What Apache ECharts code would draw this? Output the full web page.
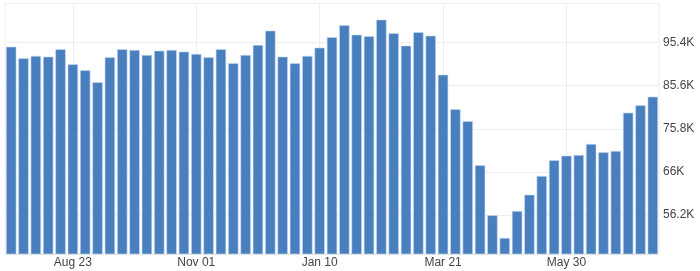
<!DOCTYPE html>
<html>
<head>
<meta charset="utf-8">
<script src="https://cdn.jsdelivr.net/npm/echarts@6/dist/echarts.min.js"></script>
<style>
html,body{margin:0;padding:0;background:#fff;}
#chart{width:700px;height:271px;}
</style>
</head>
<body>
<div id="chart"></div>
<script>
const categories = ["Jul 19","Jul 26","Aug 02","Aug 09","Aug 16","Aug 23","Aug 30","Sep 06","Sep 13","Sep 20","Sep 27","Oct 04","Oct 11","Oct 18","Oct 25","Nov 01","Nov 08","Nov 15","Nov 22","Nov 29","Dec 06","Dec 13","Dec 20","Dec 27","Jan 03","Jan 10","Jan 17","Jan 24","Jan 31","Feb 07","Feb 14","Feb 21","Feb 28","Mar 07","Mar 14","Mar 21","Mar 28","Apr 04","Apr 11","Apr 18","Apr 25","May 02","May 09","May 16","May 23","May 30","Jun 06","Jun 13","Jun 20","Jun 27","Jul 04","Jul 11","Jul 18"];
const values = [94450,91820,92340,92180,93860,90450,89090,86360,92040,93860,93700,92570,93540,93700,93320,92790,92040,93860,90680,92570,94840,98090,92180,90680,92340,94230,96590,99320,97180,96820,100590,97500,94680,97730,96950,88090,80230,77500,67500,56140,50980,57110,60820,65070,68640,69680,69840,72340,70450,70750,79450,81140,83090];
const yTicks = [56200,66000,75800,85600,95400];
const xLabelIndices = [5,15,25,35,45];

const chart = echarts.init(document.getElementById('chart'));
const showIdx = (i) => xLabelIndices.indexOf(i) >= 0;
chart.setOption({
  animation: false,
  grid: {left: 5, right: 41, top: 3.5, bottom: 17, show: true, borderColor: '#eeeeee', borderWidth: 1, backgroundColor: 'transparent'},
  xAxis: {
    type: 'category',
    data: categories,
    axisLine: {show: true, lineStyle: {color: '#e6e6e6'}},
    axisTick: {show: false, alignWithLabel: true, interval: (i) => showIdx(i)},
    axisLabel: {interval: (i) => showIdx(i), color: '#444', fontSize: 12, fontFamily: 'Liberation Sans, Arial, sans-serif', margin: 3},
    splitLine: {show: true, alignWithLabel: true, interval: (i) => showIdx(i), lineStyle: {color: '#eeeeee'}}
  },
  yAxis: {
    type: 'value',
    position: 'right',
    min: 47340,
    max: 104260,
    axisLine: {show: false},
    axisTick: {show: false, customValues: yTicks},
    axisLabel: {customValues: yTicks, color: '#444', fontSize: 12, fontFamily: 'Liberation Sans, Arial, sans-serif', margin: 4,
      formatter: (v) => (Math.round(v / 100) / 10) + 'K'},
    splitLine: {show: true, lineStyle: {color: '#eeeeee'}}
  },
  series: [{
    type: 'bar',
    data: values,
    barCategoryGap: '16%',
    itemStyle: {color: '#4a7fbf', borderColor: '#c8dbf0', borderWidth: 0.6}
  }]
});
</script>
</body>
</html>
